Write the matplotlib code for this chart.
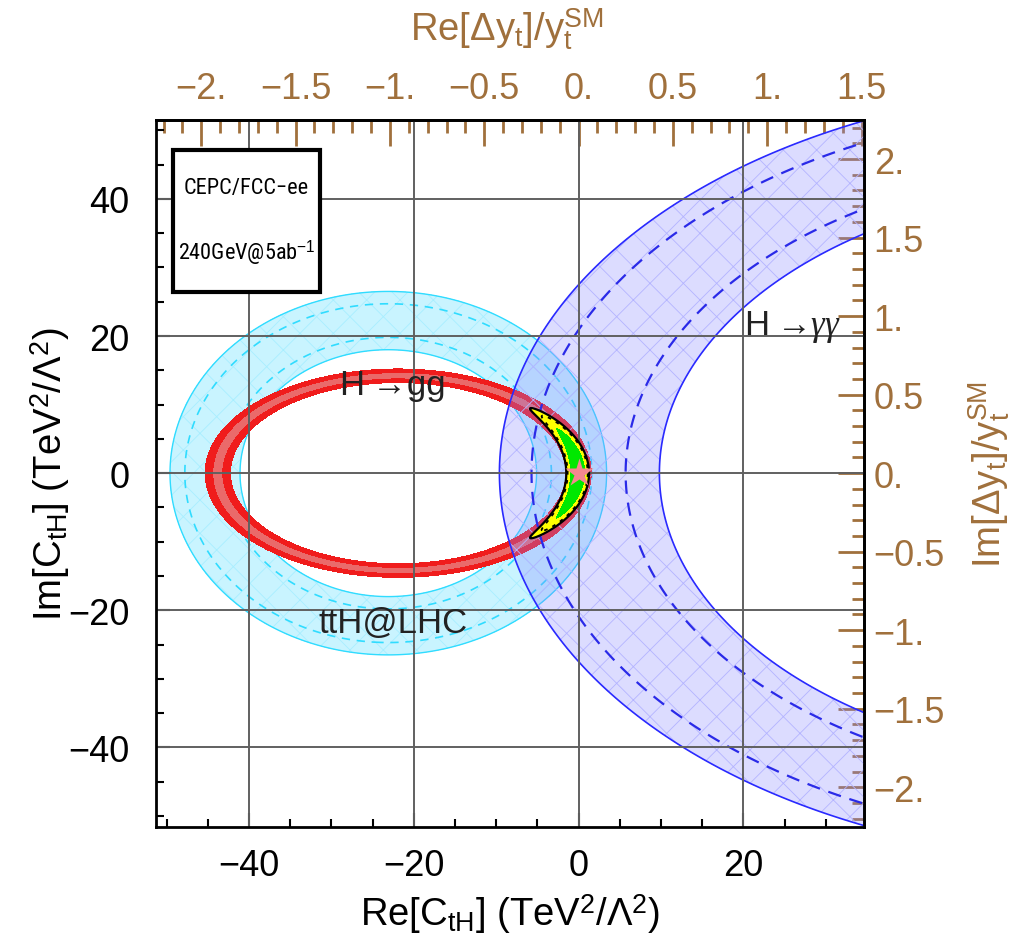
import numpy as np
import matplotlib
matplotlib.use("Agg")
import matplotlib.pyplot as plt
from matplotlib import font_manager as fm
from matplotlib.patches import Rectangle
from matplotlib.ticker import FixedLocator, MultipleLocator, FuncFormatter

# ---------------- data ----------------
# ttH@LHC ring: concentric ellipses around a centre on the Re axis
tth_center = [-23.1, 0.0]
tth_scale = [1.0, 1.0]            # relative x / y scale of the ellipse
tth_band = [18.0, 26.5]           # inner / outer radius (2 sigma)
tth_inner_band = [19.8, 24.7]     # dashed (1 sigma)

# H -> gg ring
hgg_center = [-21.9, 0.0]
hgg_semi = [21.9, 14.2]
hgg_band = [0.93, 1.07]
hgg_core = [0.978, 1.022]

# H -> gamma gamma band
haa_center = [67.2, 0.0]
haa_semi = [67.2, 49.64]
haa_band = [0.854, 1.143]
haa_inner_band = [0.915, 1.085]

# CEPC/FCC-ee combined region (around the H->gg ellipse, near the SM point)
combo_rho = 0.995
combo_sigma = [0.063, 9.5]        # width in rho and in Im
combo_levels = [0.5, 1.0]         # green (inner), yellow (outer)
sm_point = [0.0, 0.0]

# conversion  Re/Im[C_tH]  ->  Delta y_t / y_t^SM
c_per_dy = 22.9

x_major = [-40, -20, 0, 20]
y_major = [-40, -20, 0, 20, 40]
dy_top_ticks = [-2.0, -1.5, -1.0, -0.5, 0.0, 0.5, 1.0, 1.5]
dy_right_ticks = [-2.0, -1.5, -1.0, -0.5, 0.0, 0.5, 1.0, 1.5, 2.0]
xlim = [-51.3, 34.65]
ylim = [-51.6, 51.5]

# ---------------- style ----------------
plt.rcParams["font.family"] = ["Liberation Sans", "DejaVu Sans"]
plt.rcParams["mathtext.fontset"] = "custom"
plt.rcParams["mathtext.rm"] = "Liberation Sans"
plt.rcParams["mathtext.it"] = "Liberation Serif:italic"
plt.rcParams["mathtext.bf"] = "Liberation Sans:bold"

BROWN = "#a0703c"
FS = 26
FL = 27.5
W, H = 1013, 937

# a narrow face for the boxed caption, if one is installed
box_family, box_size = "Liberation Sans", 15
for fam, size in [("Liberation Sans Narrow", 16), ("Roboto Condensed", 16), ("Noto Sans Condensed", 15.5)]:
    try:
        fm.findfont(fm.FontProperties(family=fam), fallback_to_default=False)
        box_family, box_size = fam, size
        break
    except Exception:
        pass

fig = plt.figure(figsize=(W / 100, H / 100), dpi=100)
ax = fig.add_axes([156 / W, 1 - 828 / H, 708 / W, 707 / H])
ax.set_xlim(xlim)
ax.set_ylim(ylim)

X, Y = np.meshgrid(np.linspace(-53, 37, 1500), np.linspace(-54, 54, 1500))

# ttH ring
r_tth = np.sqrt(((X - tth_center[0]) / tth_scale[0]) ** 2 + ((Y - tth_center[1]) / tth_scale[1]) ** 2)
ax.contourf(X, Y, r_tth, levels=tth_band, colors=["#7fe6ff"], alpha=0.42, zorder=1)
with plt.rc_context({"hatch.color": "#a8eeff", "hatch.linewidth": 0.6}):
    ax.contourf(X, Y, r_tth, levels=tth_band, colors="none", hatches=["x"], zorder=1.05)
ax.contour(X, Y, r_tth, levels=tth_band, colors=["#30dcff"], linewidths=1.0, zorder=1.1)
ax.contour(X, Y, r_tth, levels=tth_inner_band, colors=["#30dcff"], linewidths=1.2,
           linestyles=[(0, (5, 4))], zorder=1.1)

# H->gg ring
r_hgg = np.sqrt(((X - hgg_center[0]) / hgg_semi[0]) ** 2 + ((Y - hgg_center[1]) / hgg_semi[1]) ** 2)
ax.contourf(X, Y, r_hgg, levels=hgg_band, colors=["#f01c1c"], zorder=1.5)
ax.contourf(X, Y, r_hgg, levels=hgg_core, colors=["#ea6a6a"], zorder=1.6)

# H->gamma gamma band
r_haa = np.sqrt(((X - haa_center[0]) / haa_semi[0]) ** 2 + ((Y - haa_center[1]) / haa_semi[1]) ** 2)
ax.contourf(X, Y, r_haa, levels=haa_band, colors=["#8c8cff"], alpha=0.30, zorder=2)
with plt.rc_context({"hatch.color": "#b4b4ff", "hatch.linewidth": 0.6}):
    ax.contourf(X, Y, r_haa, levels=haa_band, colors="none", hatches=["x"], zorder=2.05)
ax.contour(X, Y, r_haa, levels=haa_band, colors=["#2a2aff"], linewidths=1.2, zorder=2.1)
ax.contour(X, Y, r_haa, levels=haa_inner_band, colors=["#2a2ae8"], linewidths=1.6,
           linestyles=[(0, (6, 4))], zorder=2.1)

# grid
for gx in x_major:
    ax.axvline(gx, color="#606060", lw=1.4, zorder=2.5)
for gy in y_major:
    ax.axhline(gy, color="#606060", lw=1.4, zorder=2.5)

# combined region
chi = ((r_hgg - combo_rho) / combo_sigma[0]) ** 2 + (Y / combo_sigma[1]) ** 2
chi = np.where(X > hgg_center[0] / 2, chi, 99.0)
ax.contourf(X, Y, chi, levels=[0, combo_levels[0]], colors=["#00e800"], zorder=3)
ax.contourf(X, Y, chi, levels=combo_levels, colors=["#ffff00"], zorder=3)
ax.contour(X, Y, chi, levels=[combo_levels[1]], colors=["black"], linewidths=1.6, zorder=3.1)
ax.contour(X, Y, chi, levels=[0.78], colors=["black"], linewidths=1.3,
           linestyles=[(0, (2, 3))], zorder=3.1)
ax.plot(sm_point[0], sm_point[1], marker="*", ms=21, color="#f48890", mec="none", zorder=4)

# text labels
ax.text(-22.5, 13.0, "H\u2009\u2192gg", fontsize=25, ha="center", va="center", color="#222222", zorder=5)
ax.text(26.0, 21.5, "H\u2009\u2192$\\gamma\\gamma$", fontsize=25, ha="center", va="center",
        color="#222222", zorder=5)
ax.text(-22.5, -21.8, "ttH@LHC", fontsize=25, ha="center", va="center", color="#222222", zorder=5)

# info box
ax.add_patch(Rectangle((0.024, 0.7567), 0.2076, 0.2008, transform=ax.transAxes,
                       fc="white", ec="black", lw=3, zorder=6))
ax.text(0.1278, 0.905, "CEPC/FCC\u2212ee", transform=ax.transAxes, fontsize=box_size,
        family=[box_family, "Liberation Sans", "DejaVu Sans"], ha="center", va="center", zorder=7)
ax.text(0.1278, 0.813, "240GeV@5ab$^{-1}$", transform=ax.transAxes, fontsize=box_size,
        family=[box_family, "Liberation Sans", "DejaVu Sans"], ha="center", va="center", zorder=7)

# main axes ticks
fmt_main = FuncFormatter(lambda v, p: f"{v:g}".replace("-", "\u2212"))
ax.xaxis.set_major_locator(FixedLocator(x_major))
ax.yaxis.set_major_locator(FixedLocator(y_major))
ax.xaxis.set_minor_locator(MultipleLocator(5))
ax.yaxis.set_minor_locator(MultipleLocator(5))
ax.xaxis.set_major_formatter(fmt_main)
ax.yaxis.set_major_formatter(fmt_main)
ax.tick_params(which="both", direction="in", top=False, right=False, colors="black",
               labelsize=FS, width=1.5)
ax.tick_params(which="major", length=10)
ax.tick_params(which="minor", length=6)
ax.tick_params(axis="x", pad=15)
ax.tick_params(axis="y", pad=19)
for s in ax.spines.values():
    s.set_linewidth(2)

ax.set_xlabel("Re[C$_{\\mathrm{tH}}$] (TeV$^2$/\u039b$^2$)", fontsize=FL, va="center")
ax.xaxis.set_label_coords(0.5, -0.122)
ax.set_ylabel("Im[C$_{\\mathrm{tH}}$] (TeV$^2$/\u039b$^2$)", fontsize=FL, va="center")
ax.yaxis.set_label_coords(-0.149, 0.5)


def fmt_dy(v, p):
    s = f"{abs(v):g}"
    if "." not in s:
        s += "."
    return ("\u2212" if v < -1e-9 else "") + s


top = ax.secondary_xaxis("top", functions=(lambda x: x / c_per_dy, lambda d: d * c_per_dy))
top.xaxis.set_major_locator(FixedLocator(dy_top_ticks))
top.xaxis.set_minor_locator(MultipleLocator(0.1))
top.xaxis.set_major_formatter(FuncFormatter(fmt_dy))
top.tick_params(which="both", direction="in", colors=BROWN, labelsize=FS, width=2)
top.tick_params(which="major", length=19, pad=10)
top.tick_params(which="minor", length=9)
top.spines["top"].set_linewidth(2)
top.spines["top"].set_color("black")

right = ax.secondary_yaxis("right", functions=(lambda y: y / c_per_dy, lambda d: d * c_per_dy))
right.yaxis.set_major_locator(FixedLocator(dy_right_ticks))
right.yaxis.set_minor_locator(MultipleLocator(0.1))
right.yaxis.set_major_formatter(FuncFormatter(fmt_dy))
right.tick_params(which="both", direction="in", colors=BROWN, labelsize=FS, width=2)
right.tick_params(which="major", length=19, pad=7)
right.tick_params(which="minor", length=9)
right.spines["right"].set_linewidth(2)
right.spines["right"].set_color("black")

fig.text(507 / W, 1 - 30 / H, r"Re[$\Delta$y$_\mathrm{t}$]/y$_\mathrm{t}^\mathrm{SM}$", fontsize=FL,
         color=BROWN, ha="center", va="center")
fig.text(990 / W, 1 - 474 / H, r"Im[$\Delta$y$_\mathrm{t}$]/y$_\mathrm{t}^\mathrm{SM}$", fontsize=FL,
         color=BROWN, ha="center", va="center", rotation=90)

fig.savefig("out.png", dpi=100)
